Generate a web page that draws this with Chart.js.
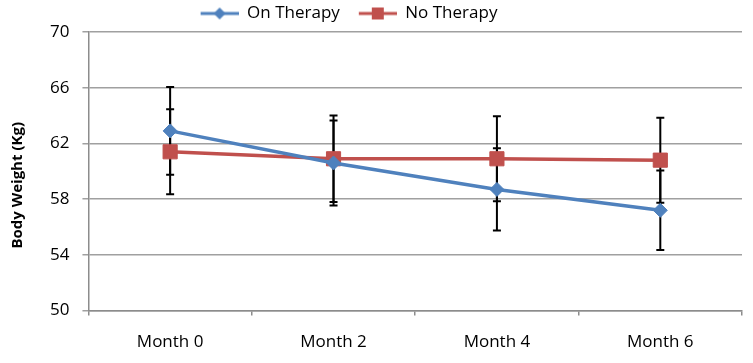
<!DOCTYPE html>
<html>
<head>
<meta charset="utf-8">
<script src="https://cdn.jsdelivr.net/npm/chart.js@4"></script>
<style>
  html, body { margin: 0; padding: 0; background: #fff; }
  #wrap { width: 753px; height: 363px; }
</style>
</head>
<body>
<div id="wrap"><canvas id="weightChart"></canvas></div>
<script>
const months = ['Month 0', 'Month 2', 'Month 4', 'Month 6'];
const onTherapy = [62.9, 60.6, 58.7, 57.2];
const noTherapy = [61.4, 60.9, 60.9, 60.8];
const onTherapyErr = [3.15, 3.05, 2.95, 2.85];
const noTherapyErr = [3.05, 3.1, 3.05, 3.05];
const yTicks = [50, 54, 58, 62, 66, 70];
const yTitle = 'Body Weight (Kg)';

const BLUE = '#4F81BD';
const RED = '#C0504D';
const FONT = "'Open Sans', 'Liberation Sans', sans-serif";

// legend icon: short line with marker on it, like Excel (blank gap on the left)
function legendIcon(color, shape) {
    const c = document.createElement('canvas');
    c.width = 52;
    c.height = 14;
    const g = c.getContext('2d');
    g.strokeStyle = color;
    g.lineWidth = 3;
    g.beginPath();
    g.moveTo(14, 7);
    g.lineTo(52, 7);
    g.stroke();
    g.fillStyle = color;
    if (shape === 'diamond') {
        g.beginPath();
        g.moveTo(33, 1);
        g.lineTo(39, 7);
        g.lineTo(33, 13);
        g.lineTo(27, 7);
        g.closePath();
        g.fill();
    } else {
        g.fillRect(27, 1, 12, 12);
    }
    return c;
}

const errorBars = {
    id: 'errorBars',
    beforeDatasetsDraw(chart) {
        const ctx = chart.ctx;
        const y = chart.scales.y;
        ctx.save();
        ctx.strokeStyle = '#000';
        ctx.lineWidth = 2;
        chart.data.datasets.forEach((ds, i) => {
            const meta = chart.getDatasetMeta(i);
            meta.data.forEach((pt, j) => {
                const v = ds.data[j];
                const e = ds.errors[j];
                const top = y.getPixelForValue(v + e);
                const bot = y.getPixelForValue(v - e);
                ctx.beginPath();
                ctx.moveTo(pt.x, top);
                ctx.lineTo(pt.x, bot);
                ctx.moveTo(pt.x - 4, top);
                ctx.lineTo(pt.x + 4, top);
                ctx.moveTo(pt.x - 4, bot);
                ctx.lineTo(pt.x + 4, bot);
                ctx.stroke();
            });
        });
        ctx.restore();
    }
};

// nudge the legend left and draw the y title a little below centre, as in the original
const tweaks = {
    id: 'tweaks',
    afterLayout(chart) {
        if (chart.legend) {
            chart.legend.right -= 76;
        }
    },
    afterDraw(chart) {
        const y = chart.scales.y;
        const ctx = chart.ctx;
        ctx.save();
        ctx.translate(y.left + 9, (y.top + y.bottom) / 2 + 14);
        ctx.rotate(-Math.PI / 2);
        ctx.fillStyle = '#000';
        ctx.font = 'bold 15px ' + FONT;
        ctx.textAlign = 'center';
        ctx.textBaseline = 'middle';
        ctx.fillText(yTitle, 0, 0);
        ctx.restore();
    }
};

const ctx = document.getElementById('weightChart').getContext('2d');
new Chart(ctx, {
    type: 'line',
    data: {
        labels: months,
        datasets: [{
            label: 'On Therapy',
            data: onTherapy,
            errors: onTherapyErr,
            borderColor: BLUE,
            backgroundColor: BLUE,
            borderWidth: 3.5,
            pointStyle: 'rectRot',
            pointRadius: 7,
            pointBorderWidth: 1,
            pointStyleIcon: legendIcon(BLUE, 'diamond')
        }, {
            label: 'No Therapy',
            data: noTherapy,
            errors: noTherapyErr,
            borderColor: RED,
            backgroundColor: RED,
            borderWidth: 3.5,
            pointStyle: 'rect',
            pointRadius: 10,
            pointBorderWidth: 1,
            pointStyleIcon: legendIcon(RED, 'square')
        }]
    },
    options: {
        responsive: true,
        maintainAspectRatio: false,
        animation: false,
        events: [],
        layout: { padding: { top: 0, right: 2, left: 9, bottom: -5 } },
        plugins: {
            tooltip: { enabled: false },
            legend: {
                position: 'top',
                labels: {
                    usePointStyle: true,
                    pointStyleWidth: 52,
                    padding: 5,
                    color: '#000',
                    font: { family: FONT, size: 17 },
                    generateLabels: (chart) => chart.data.datasets.map((ds, i) => ({
                        text: ds.label,
                        pointStyle: ds.pointStyleIcon,
                        fillStyle: ds.borderColor,
                        strokeStyle: ds.borderColor,
                        lineWidth: 0,
                        fontColor: '#000',
                        datasetIndex: i
                    }))
                }
            }
        },
        scales: {
            x: {
                offset: true,
                grid: {
                    offset: true,
                    drawOnChartArea: false,
                    drawTicks: true,
                    tickLength: 5,
                    color: '#8c8c8c',
                    lineWidth: 1.5
                },
                border: { color: '#8c8c8c', width: 1.5 },
                ticks: {
                    color: '#000',
                    padding: 16,
                    font: { family: FONT, size: 17 }
                }
            },
            y: {
                min: 50,
                max: 70,
                afterBuildTicks: (axis) => {
                    axis.ticks = yTicks.map(v => ({ value: v }));
                },
                grid: {
                    color: '#a0a0a0',
                    lineWidth: 1.5,
                    tickLength: 6
                },
                border: { color: '#8c8c8c', width: 1.5 },
                ticks: {
                    color: '#000',
                    padding: 13,
                    font: { family: FONT, size: 17 }
                },
                title: {
                    display: true,
                    text: yTitle,
                    color: 'rgba(0,0,0,0)',
                    padding: { top: 0, bottom: 10 },
                    font: { family: FONT, size: 15, weight: 'bold' }
                }
            }
        }
    },
    plugins: [errorBars, tweaks]
});
</script>
</body>
</html>
